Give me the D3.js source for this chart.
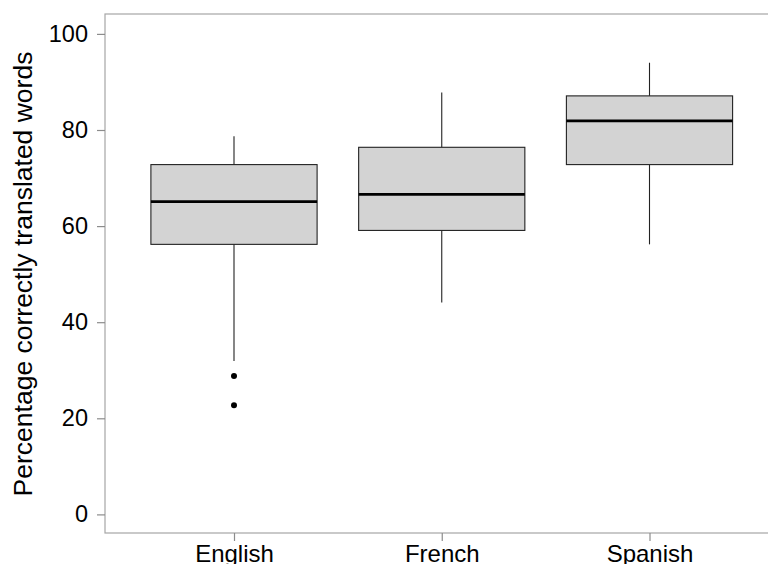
<!DOCTYPE html>
<html><head><meta charset="utf-8">
<script src="https://cdn.jsdelivr.net/npm/d3@7"></script>
<style>body{margin:0;background:#fff}svg{display:block}text{font-family:"Liberation Sans",Arial,Helvetica,sans-serif;fill:#000}</style>
</head><body>
<script>
const categories = ["English", "French", "Spanish"];
const whiskerLow = [31.9, 44.1, 56.2];
const q1 = [56.2, 59.1, 72.8];
const median = [65.1, 66.6, 81.9];
const q3 = [72.8, 76.4, 87.1];
const whiskerHigh = [78.7, 87.8, 94.0];
const outliers = [[28.8, 22.7], [], []];
const yTicks = [0, 20, 40, 60, 80, 100];
const yTitle = "Percentage correctly translated words";

const W = 768, H = 564;
const panel = {left: 105, top: 14, right: 775, bottom: 533};
const svg = d3.select("body").append("svg").attr("width", W).attr("height", H);

const x = d3.scalePoint().domain(categories).range([234, 649.5]);
const step = x.step();
const bw = step * 0.8;
const y = d3.scaleLinear().domain([0, 100]).range([514.4, 33.9]);

// panel border
svg.append("rect").attr("x", panel.left).attr("y", panel.top)
  .attr("width", panel.right - panel.left).attr("height", panel.bottom - panel.top)
  .attr("fill", "none").attr("stroke", "#a6a6a6").attr("stroke-width", 1.2);

// axes
const yAxis = svg.append("g").attr("transform", `translate(${panel.left},0)`)
  .call(d3.axisLeft(y).tickValues(yTicks).tickSize(8).tickPadding(9));
yAxis.select(".domain").remove();
yAxis.selectAll("line").attr("stroke", "#8c8c8c").attr("stroke-width", 1.2);
yAxis.selectAll("text").attr("font-size", 23.5).attr("fill", "#000")
  .attr("font-family", '"Liberation Sans",Arial,sans-serif');

const xAxis = svg.append("g").attr("transform", `translate(0,${panel.bottom})`)
  .call(d3.axisBottom(x).tickSize(8).tickPadding(4));
xAxis.select(".domain").remove();
xAxis.selectAll("line").attr("stroke", "#8c8c8c").attr("stroke-width", 1.2);
xAxis.selectAll("text").attr("font-size", 24).attr("fill", "#000")
  .attr("font-family", '"Liberation Sans",Arial,sans-serif');

// boxes
const data = categories.map((c, i) => ({c, lo: whiskerLow[i], q1: q1[i], med: median[i], q3: q3[i], hi: whiskerHigh[i], out: outliers[i]}));
const g = svg.append("g");
data.forEach(d => {
  const cx = x(d.c);
  g.append("line").attr("x1", cx).attr("x2", cx).attr("y1", y(d.hi)).attr("y2", y(d.q3))
    .attr("stroke", "#222").attr("stroke-width", 1.1);
  g.append("line").attr("x1", cx).attr("x2", cx).attr("y1", y(d.q1)).attr("y2", y(d.lo))
    .attr("stroke", "#222").attr("stroke-width", 1.1);
  g.append("rect").attr("x", cx - bw / 2).attr("width", bw)
    .attr("y", y(d.q3)).attr("height", y(d.q1) - y(d.q3))
    .attr("fill", "#d3d3d3").attr("stroke", "#222").attr("stroke-width", 1.1);
  g.append("line").attr("x1", cx - bw / 2).attr("x2", cx + bw / 2).attr("y1", y(d.med)).attr("y2", y(d.med))
    .attr("stroke", "#000").attr("stroke-width", 2.6);
  d.out.forEach(v => g.append("circle").attr("cx", cx).attr("cy", y(v)).attr("r", 3).attr("fill", "#000"));
});

// y title
svg.append("text").attr("transform", `translate(32,274) rotate(-90)`)
  .attr("text-anchor", "middle").attr("font-size", 26.5).text(yTitle);
</script>
</body></html>
